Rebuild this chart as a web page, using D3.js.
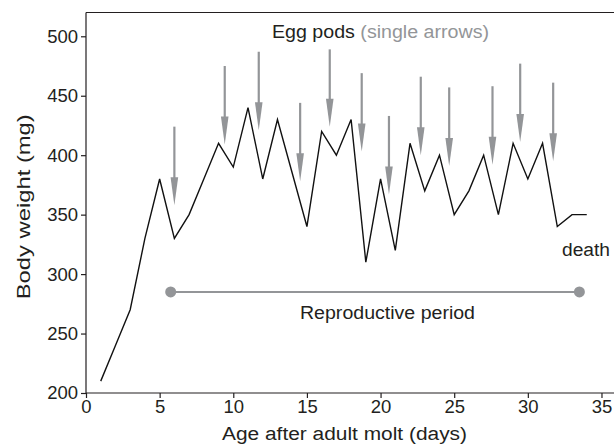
<!DOCTYPE html>
<html>
<head>
<meta charset="utf-8">
<script src="https://cdn.jsdelivr.net/npm/d3@7"></script>
<style>
  html, body { margin: 0; padding: 0; background: #fff; }
  svg { display: block; }
  text { font-family: "Liberation Sans", Arial, Helvetica, sans-serif; fill: #231f20; }
</style>
</head>
<body>
<svg id="chart" width="614" height="446"></svg>
<script>
// ---- data ----
const days    = [1, 2, 3, 4, 5, 6, 7, 8, 9, 10, 11, 12, 13, 14, 15, 16, 17, 18, 19, 20, 21, 22, 23, 24, 25, 26, 27, 28, 29, 30, 31, 32, 33, 34];
const weights = [210, 240, 270, 330, 380, 330, 350, 380, 410, 390, 440, 380, 430, 385, 340, 420, 400, 430, 310, 380, 320, 410, 370, 400, 350, 370, 400, 350, 410, 380, 410, 340, 350, 350];

// egg pod arrows: day, top value, tip value
const arrowDays = [6.0, 9.42, 11.73, 14.54, 16.55, 18.72, 20.57, 22.73, 24.66, 27.6, 29.48, 31.72];
const arrowTop  = [424, 475, 487, 444, 489, 469, 433, 466, 457, 458, 477, 461];
const arrowTip  = [358, 409, 421, 378, 424, 403, 367, 400, 391, 392, 411, 395];

const reproStart = 5.75, reproEnd = 33.5, reproLevel = 285;

const xTicks = [0, 5, 10, 15, 20, 25, 30, 35];
const yTicks = [200, 250, 300, 350, 400, 450, 500];

// ---- layout ----
const svg = d3.select("#chart");
const x = d3.scaleLinear().domain([0, 35.85]).range([86, 614]);
const y = d3.scaleLinear().domain([200, 520]).range([393, 12.5]);

const ink = "#231f20";
const gray = "#939598";

// frame top line
svg.append("line")
  .attr("x1", x(0)).attr("x2", 614)
  .attr("y1", y(520)).attr("y2", y(520))
  .attr("stroke", ink).attr("stroke-width", 1.2);

// axes
const xAxis = svg.append("g").attr("transform", `translate(0,${y(200)})`)
  .call(d3.axisBottom(x).tickValues(xTicks).tickSize(5).tickSizeOuter(0).tickPadding(2));
const yAxis = svg.append("g").attr("transform", `translate(${x(0)},0)`)
  .call(d3.axisLeft(y).tickValues(yTicks).tickSize(5).tickSizeOuter(0).tickPadding(3));
[xAxis, yAxis].forEach(g => {
  g.select(".domain").attr("stroke", ink).attr("stroke-width", 1.2);
  g.selectAll(".tick line").attr("stroke", ink).attr("stroke-width", 1.2);
  g.selectAll(".tick text").attr("font-size", 18.5).attr("fill", ink)
    .style("font-family", "'Liberation Sans', Arial, sans-serif");
});
xAxis.select(".domain").attr("d", `M${x(0)},0H614`);
yAxis.select(".domain").attr("d", `M0,${y(520)}V${y(200)}`);

// arrows
const arrows = svg.append("g");
arrowDays.forEach((d, i) => {
  const cx = x(d), yt = y(arrowTop[i]), yp = y(arrowTip[i]);
  const headLen = 28, headW = 3.8;
  arrows.append("line")
    .attr("x1", cx).attr("x2", cx)
    .attr("y1", yt).attr("y2", yp - headLen + 2)
    .attr("stroke", gray).attr("stroke-width", 2.2);
  arrows.append("path")
    .attr("d", `M${cx - headW},${yp - headLen} L${cx + headW},${yp - headLen} L${cx},${yp} Z`)
    .attr("fill", gray);
});

// body weight line
const line = d3.line().x((d, i) => x(days[i])).y(d => y(d));
svg.append("path")
  .datum(weights)
  .attr("d", line)
  .attr("fill", "none")
  .attr("stroke", "#111")
  .attr("stroke-width", 1.4)
  .attr("stroke-linejoin", "miter");

// reproductive period
svg.append("line")
  .attr("x1", x(reproStart)).attr("x2", x(reproEnd))
  .attr("y1", y(reproLevel)).attr("y2", y(reproLevel))
  .attr("stroke", gray).attr("stroke-width", 2);
svg.selectAll("circle.rp").data([reproStart, reproEnd]).enter().append("circle")
  .attr("cx", d => x(d)).attr("cy", y(reproLevel)).attr("r", 5.5).attr("fill", gray);

// labels
svg.append("text").attr("x", 300).attr("y", 318.5)
  .attr("font-size", 18).attr("textLength", 175).attr("lengthAdjust", "spacingAndGlyphs")
  .text("Reproductive period");

const egg = svg.append("text").attr("x", 272).attr("y", 37.5).attr("font-size", 17.5)
  .attr("textLength", 217).attr("lengthAdjust", "spacingAndGlyphs");
egg.append("tspan").text("Egg pods ");
egg.append("tspan").style("fill", gray).text("(single arrows)");

svg.append("text").attr("x", 562).attr("y", 255.5)
  .attr("font-size", 18).attr("textLength", 48).attr("lengthAdjust", "spacingAndGlyphs")
  .text("death");

svg.append("text").attr("x", 222).attr("y", 439.5)
  .attr("font-size", 18).attr("textLength", 245).attr("lengthAdjust", "spacingAndGlyphs")
  .text("Age after adult molt (days)");

svg.append("text").attr("transform", `translate(30,${(y(200) + y(520)) / 2 + 4}) rotate(-90)`)
  .attr("text-anchor", "middle").attr("font-size", 19)
  .attr("textLength", 185).attr("lengthAdjust", "spacingAndGlyphs")
  .text("Body weight (mg)");
</script>
</body>
</html>
